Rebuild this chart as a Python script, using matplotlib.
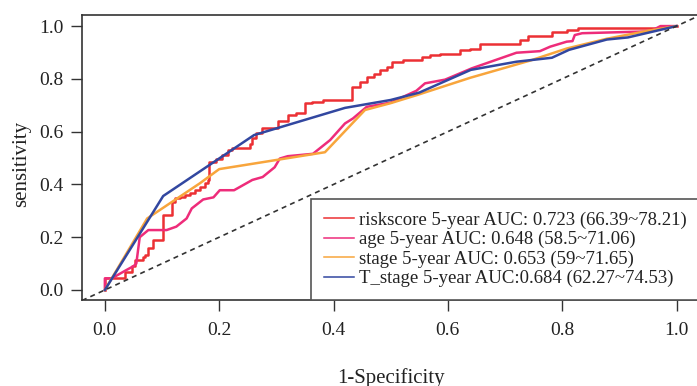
import matplotlib
matplotlib.use("Agg")
import matplotlib.pyplot as plt

# ROC points (1-specificity, sensitivity)
risk_fpr = [0, 0, 0.035, 0.047, 0.052, 0.067, 0.070, 0.076, 0.085, 0.101, 0.102, 0.117,
            0.122, 0.131, 0.140, 0.149, 0.157, 0.166, 0.175, 0.181, 0.183, 0.195, 0.205,
            0.215, 0.222, 0.254, 0.258, 0.265, 0.274, 0.303, 0.321, 0.335, 0.350, 0.362,
            0.382, 0.432, 0.446, 0.458, 0.470, 0.481, 0.493, 0.502, 0.522, 0.554, 0.569,
            0.586, 0.621, 0.639, 0.656, 0.726, 0.741, 0.782, 0.808, 0.828, 0.975, 1.0]
risk_tpr = [0, 0.044, 0.070, 0.089, 0.114, 0.126, 0.133, 0.158, 0.189, 0.220, 0.284, 0.335,
            0.347, 0.354, 0.360, 0.366, 0.379, 0.391, 0.404, 0.417, 0.486, 0.497, 0.510,
            0.530, 0.537, 0.553, 0.575, 0.594, 0.612, 0.641, 0.663, 0.669, 0.707, 0.713,
            0.720, 0.770, 0.789, 0.806, 0.818, 0.833, 0.846, 0.865, 0.871, 0.884, 0.890,
            0.894, 0.909, 0.915, 0.934, 0.947, 0.963, 0.979, 0.985, 0.994, 1.0, 1.0]

age_fpr = [0, 0, 0.012, 0.038, 0.050, 0.055, 0.061, 0.076, 0.108, 0.125, 0.143, 0.152,
           0.172, 0.190, 0.201, 0.226, 0.258, 0.276, 0.297, 0.306, 0.320, 0.364, 0.394,
           0.420, 0.434, 0.458, 0.500, 0.545, 0.560, 0.595, 0.642, 0.720, 0.761, 0.779,
           0.808, 0.818, 0.822, 0.835, 0.954, 0.972, 1.0]
age_tpr = [0, 0.044, 0.044, 0.076, 0.090, 0.100, 0.200, 0.227, 0.227, 0.240, 0.271, 0.309,
           0.343, 0.351, 0.378, 0.378, 0.417, 0.428, 0.465, 0.498, 0.507, 0.516, 0.568,
           0.631, 0.650, 0.694, 0.710, 0.755, 0.783, 0.797, 0.840, 0.899, 0.905, 0.922,
           0.941, 0.943, 0.966, 0.973, 0.980, 1.0, 1.0]

stage_fpr = [0, 0.074, 0.166, 0.200, 0.385, 0.455, 0.500, 0.545, 0.639, 0.745, 0.808,
             0.878, 0.950, 1.0]
stage_tpr = [0, 0.271, 0.404, 0.458, 0.522, 0.682, 0.708, 0.738, 0.804, 0.870, 0.915,
             0.952, 0.982, 1.0]

tstage_fpr = [0, 0.102, 0.261, 0.420, 0.500, 0.550, 0.640, 0.720, 0.782, 0.812, 0.878,
              0.915, 1.0]
tstage_tpr = [0, 0.356, 0.587, 0.690, 0.720, 0.748, 0.834, 0.865, 0.880, 0.910, 0.949,
              0.957, 1.0]

labels = ["riskscore 5-year AUC: 0.723 (66.39~78.21)",
          "age 5-year AUC: 0.648 (58.5~71.06)",
          "stage 5-year AUC: 0.653 (59~71.65)",
          "T_stage 5-year AUC:0.684 (62.27~74.53)"]
colors = ["#EC3034", "#EE2C7A", "#F8A53C", "#3247A0"]

plt.rcParams["font.family"] = ["Liberation Serif", "DejaVu Serif"]

fig = plt.figure(figsize=(6.97, 3.86), dpi=100)
ax = fig.add_axes([82 / 697, 1 - 300 / 386, 617.4 / 697, 285 / 386])

# riskscore is a step curve
ax.plot(risk_fpr, risk_tpr, color=colors[0], lw=1.8, drawstyle="steps-post", label=labels[0])
ax.plot(age_fpr, age_tpr, color=colors[1], lw=1.8, label=labels[1])
ax.plot(stage_fpr, stage_tpr, color=colors[2], lw=1.8, label=labels[2])
ax.plot(tstage_fpr, tstage_tpr, color=colors[3], lw=1.8, label=labels[3])
ax.plot([-0.04, 1.04], [-0.04, 1.04], color="#333333", lw=1.2, ls=(0, (3, 2.5)))

ax.set_xlim(-0.04, 1.04)
ax.set_ylim(-0.038, 1.042)
ax.set_xticks([0, 0.2, 0.4, 0.6, 0.8, 1.0])
ax.set_yticks([0, 0.2, 0.4, 0.6, 0.8, 1.0])
ax.set_xticklabels(["0.0", "0.2", "0.4", "0.6", "0.8", "1.0"])
ax.set_yticklabels(["0.0", "0.2", "0.4", "0.6", "0.8", "1.0"])
ax.tick_params(direction="out", length=8, width=1.0, color="#333333",
               labelsize=14, labelcolor="#222222")
ax.tick_params(axis="x", pad=8)
ax.tick_params(axis="y", pad=5)
for s in ax.spines.values():
    s.set_color("#333333")
    s.set_linewidth(1.2)

ax.set_xlabel("1-Specificity", fontsize=15, color="#222222", va="baseline")
ax.xaxis.set_label_coords(0.5, -0.29)
ax.set_ylabel("sensitivity", fontsize=15, color="#222222", va="center")
ax.yaxis.set_label_coords(-0.098, 0.477)

leg = ax.legend(loc="lower right", bbox_to_anchor=(1.0, 0.0), borderaxespad=0,
                fontsize=13.5, frameon=True, fancybox=False, edgecolor="#555555",
                framealpha=1, handlelength=1.6, handletextpad=0.27,
                labelspacing=0.12, borderpad=0.68)
leg.get_frame().set_linewidth(1.2)
for t in leg.get_texts():
    t.set_color("#222222")
for h in leg.get_lines():
    h.set_linewidth(1.1)

fig.savefig("out.png", dpi=100)
